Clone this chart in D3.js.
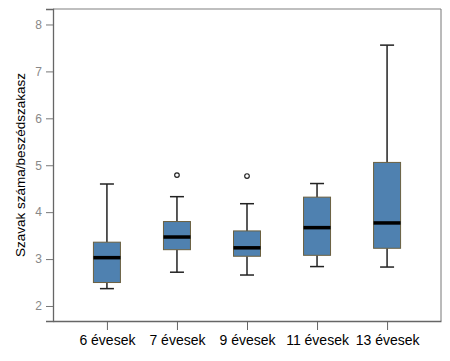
<!DOCTYPE html>
<html>
<head>
<meta charset="utf-8">
<script src="https://cdn.jsdelivr.net/npm/d3@7"></script>
<style>
  body { margin: 0; background: #fff; }
  text { font-family: "Liberation Sans", Arial, sans-serif; }
</style>
</head>
<body>
<div id="chart"></div>
<script>
// groups and box statistics
const groups = ["6 évesek", "7 évesek", "9 évesek", "11 évesek", "13 évesek"];
const whiskerLow = [2.37, 2.72, 2.66, 2.84, 2.83];
const q1 = [2.50, 3.20, 3.06, 3.08, 3.23];
const median = [3.03, 3.47, 3.24, 3.67, 3.77];
const q3 = [3.36, 3.80, 3.60, 4.32, 5.06];
const whiskerHigh = [4.60, 4.33, 4.18, 4.61, 7.56];
const outliers = [[], [4.79], [4.77], [], []];
const yTicks = [2, 3, 4, 5, 6, 7, 8];
const yLabel = "Szavak száma/beszédszakasz";

const width = 450, height = 361;
const margin = { top: 9, right: 9, bottom: 40, left: 53 };
const innerW = width - margin.left - margin.right;
const innerH = height - margin.top - margin.bottom;

const svg = d3.select("#chart").append("svg")
    .attr("width", width)
    .attr("height", height);

const g = svg.append("g")
    .attr("transform", "translate(" + margin.left + "," + margin.top + ")");

let x = d3.scalePoint().domain(groups).range([0, innerW]).padding(0.77);
let y = d3.scaleLinear().domain([1.68, 8.33]).range([innerH, 0]);

// frame
g.append("line").attr("x1", 0).attr("x2", innerW).attr("y1", 0).attr("y2", 0)
    .attr("stroke", "#aaa").attr("stroke-width", 1.5);
g.append("line").attr("x1", innerW).attr("x2", innerW).attr("y1", 0).attr("y2", innerH)
    .attr("stroke", "#777").attr("stroke-width", 1);

// y axis
let yAxis = d3.axisLeft(y).tickValues(yTicks).tickSize(7).tickPadding(4).tickFormat(d => d);
let yg = g.append("g").call(yAxis);
yg.select(".domain").attr("stroke", "#666").attr("stroke-width", 1.3);
yg.selectAll(".tick line").attr("stroke", "#777");
yg.selectAll(".tick text").attr("fill", "#888").style("font-size", "12px");

// x axis
let xAxis = d3.axisBottom(x).tickSize(9).tickPadding(5).tickSizeOuter(0);
let xg = g.append("g").attr("transform", "translate(0," + innerH + ")").call(xAxis);
xg.select(".domain").attr("stroke", "#666").attr("stroke-width", 1.3);
xg.selectAll(".tick line").attr("stroke", "#666");
xg.selectAll(".tick text").attr("fill", "#000").style("font-size", "14px");

// y label
svg.append("text")
    .attr("transform", "translate(20," + (margin.top + innerH / 2) + ") rotate(-90)")
    .attr("text-anchor", "middle")
    .attr("dy", "0.35em")
    .style("font-size", "13.5px")
    .attr("fill", "#000")
    .text(yLabel);

const boxW = 27, capW = 14;
let data = groups.map((d, i) => ({
    name: d, lo: whiskerLow[i], q1: q1[i], med: median[i], q3: q3[i], hi: whiskerHigh[i], out: outliers[i]
}));

let boxes = g.selectAll(".box").data(data).join("g")
    .attr("class", "box")
    .attr("transform", d => "translate(" + x(d.name) + ",0)");

// whiskers
boxes.append("line").attr("x1", 0).attr("x2", 0)
    .attr("y1", d => y(d.q3)).attr("y2", d => y(d.hi))
    .attr("stroke", "#222").attr("stroke-width", 1.5);
boxes.append("line").attr("x1", 0).attr("x2", 0)
    .attr("y1", d => y(d.q1)).attr("y2", d => y(d.lo))
    .attr("stroke", "#222").attr("stroke-width", 1.5);
boxes.append("line").attr("x1", -capW / 2).attr("x2", capW / 2)
    .attr("y1", d => y(d.hi)).attr("y2", d => y(d.hi))
    .attr("stroke", "#222").attr("stroke-width", 1.5);
boxes.append("line").attr("x1", -capW / 2).attr("x2", capW / 2)
    .attr("y1", d => y(d.lo)).attr("y2", d => y(d.lo))
    .attr("stroke", "#222").attr("stroke-width", 1.5);

// box
boxes.append("rect")
    .attr("x", -boxW / 2).attr("width", boxW)
    .attr("y", d => y(d.q3)).attr("height", d => y(d.q1) - y(d.q3))
    .attr("fill", "#4f81b0").attr("stroke", "#6b6040").attr("stroke-width", 1);

// median
boxes.append("line").attr("x1", -boxW / 2).attr("x2", boxW / 2)
    .attr("y1", d => y(d.med)).attr("y2", d => y(d.med))
    .attr("stroke", "#000").attr("stroke-width", 3.5);

// outliers
boxes.selectAll(".outlier").data(d => d.out).join("circle")
    .attr("class", "outlier")
    .attr("cx", 0).attr("cy", d => y(d)).attr("r", 2.3)
    .attr("fill", "none").attr("stroke", "#222").attr("stroke-width", 1.2);
</script>
</body>
</html>
